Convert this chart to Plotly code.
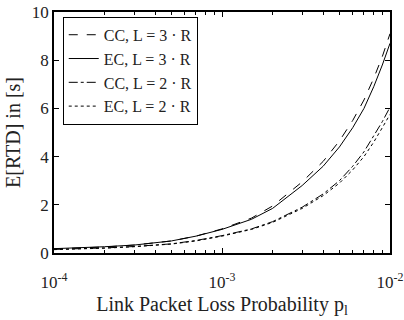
import plotly.graph_objects as go

p = [1e-4, 1.5e-4, 2e-4, 3e-4, 5e-4, 7e-4, 1e-3, 1.5e-3, 2e-3, 3e-3, 4e-3, 5e-3, 6e-3, 7e-3, 8e-3, 9e-3, 1e-2]
cc_l3 = [0.17, 0.21, 0.25, 0.33, 0.50, 0.70, 1.00, 1.45, 1.95, 2.95, 3.80, 4.65, 5.50, 6.35, 7.25, 8.15, 9.10]
ec_l3 = [0.18, 0.22, 0.26, 0.33, 0.50, 0.70, 0.98, 1.40, 1.85, 2.80, 3.60, 4.40, 5.20, 6.00, 6.90, 7.80, 8.70]
cc_l2 = [0.15, 0.18, 0.21, 0.27, 0.38, 0.52, 0.72, 1.00, 1.30, 1.90, 2.45, 3.00, 3.60, 4.20, 4.85, 5.45, 6.05]
ec_l2 = [0.14, 0.17, 0.20, 0.26, 0.37, 0.50, 0.70, 0.98, 1.27, 1.85, 2.38, 2.90, 3.45, 4.00, 4.60, 5.20, 5.75]

names = ["CC, L = 3 · R", "EC, L = 3 · R", "CC, L = 2 · R", "EC, L = 2 · R"]
series = [cc_l3, ec_l3, cc_l2, ec_l2]
dashes = ["dash", "solid", "dashdot", "dot"]

x_tickvals = [1e-4, 1e-3, 1e-2]
x_ticktext = ["10<sup>-4</sup>", "10<sup>-3</sup>", "10<sup>-2</sup>"]
x_minor = [m * 10.0 ** e for e in (-4, -3) for m in range(2, 10)]
y_tickvals = [0, 2, 4, 6, 8, 10]

fig = go.Figure()
for name, ys, d in zip(names, series, dashes):
    fig.add_trace(go.Scatter(x=p, y=ys, mode="lines", name=name,
                             line=dict(color="black", width=1, dash=d)))

font = dict(family="Liberation Serif, Times New Roman, serif", size=17, color="#222")
fig.update_layout(
    width=404, height=320,
    margin=dict(l=54, r=14, t=12, b=67, autoexpand=False),
    paper_bgcolor="white", plot_bgcolor="white",
    font=font,
    showlegend=True,
    legend=dict(x=0.026, y=0.98, xanchor="left", yanchor="top",
                bordercolor="black", borderwidth=1, bgcolor="white",
                font=dict(size=16), tracegroupgap=0, itemwidth=30,
                entrywidth=163, entrywidthmode="pixels"),
)
fig.update_xaxes(type="log", range=[-4, -2], tickvals=x_tickvals, ticktext=x_ticktext,
                 ticks="inside", ticklen=5, tickcolor="black", showgrid=False,
                 showline=True, linecolor="black", linewidth=1.5, mirror="ticks",
                 ticklabelstandoff=13, automargin=False,
                 minor=dict(tickvals=x_minor, ticks="inside", ticklen=3, tickcolor="black", showgrid=False),
                 title=dict(text="Link Packet Loss Probability p<sub>l</sub>", standoff=6),
                 zeroline=False)
fig.update_yaxes(range=[0, 10], tickvals=y_tickvals,
                 ticks="inside", ticklen=5, tickcolor="black", showgrid=False,
                 showline=True, linecolor="black", linewidth=1.5, mirror="ticks",
                 automargin=False,
                 title=dict(text="E[RTD] in [s]", standoff=6), zeroline=False)

fig.write_html("out.html")
